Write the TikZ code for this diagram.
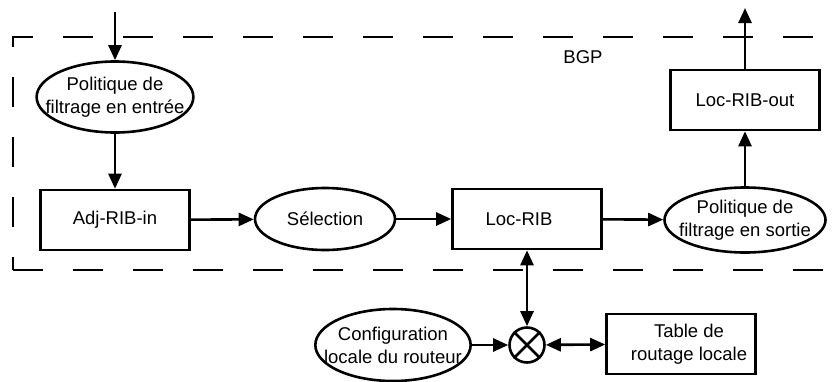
\documentclass[tikz,border=0pt]{standalone}
\usepackage{fontspec}
\setmainfont{Liberation Sans}
\usetikzlibrary{shapes, arrows, arrows.meta, positioning}
\tikzstyle{rbox} = [rectangle, draw, line width=2.6pt, minimum width=149pt, minimum height=60pt, align=center, inner sep=0pt]
\tikzstyle{enode} = [ellipse, draw, line width=2.6pt, align=center, inner xsep=-14pt, inner ysep=0pt]
\tikzstyle{line} = [draw, line width=2.6pt, ->]
\tikzstyle{dline} = [draw, line width=2.6pt, <->]
\tikzstyle{frame} = [draw, line width=2.6pt, dash pattern=on 30pt off 30pt]

\begin{document}
\begin{tikzpicture}[x=1pt, y=-1pt, font=\fontsize{18.5}{23}\selectfont, >={Triangle[length=15pt,width=13pt]}]
			\useasboundingbox (0,0) rectangle (832,381);
			% zone BGP
			\draw [frame, dash phase=33pt] (840,37) -- (13,37) -- (13,270);
			\draw [frame] (13,270) -- (840,270);
			\node (bgp) at (583,57) {BGP};
			
			\node [enode, minimum width=154pt, minimum height=71pt] (filtin) at (115,97) {Politique de\\filtrage en entrée};
			\node [rbox] (adjin) at (115,220) {Adj-RIB-in};
			\node [enode, minimum width=140pt, minimum height=62pt] (selec) at (325,219) {Sélection};
			\node [rbox] (locrib) at (527,219) {\hspace*{-16pt}Loc-RIB};
			\node [enode, minimum width=161pt, minimum height=65pt] (filtout) at (745,220) {Politique de\\filtrage en sortie};
			\node [rbox] (ribout) at (745,100) {Loc-RIB-out};
			\coordinate (entree) at (115,12);
			\coordinate (sortie) at (745,8);
			
			% hors BGP
			\node [circle, draw, line width=2.6pt, minimum size=35pt, inner sep=0pt] (otimes) at (527,345) {};
			\draw [line width=2.6pt] (otimes.north east) -- (otimes.south west) (otimes.north west) -- (otimes.south east);
			\node [enode, minimum width=154pt, minimum height=72pt] (config) at (393,345) {Configuration\\locale du routeur};
			\node [rbox] (table) at (681,344) {\hspace*{16pt}Table de\\\hspace*{16pt}routage locale};
			
			\path [line] (entree) -- (filtin);
			\path [line] (filtin) -- (adjin);
			\path [line] (adjin) -- (selec);
			\path [line] (selec) -- (locrib);
			\path [line] (locrib) -- (filtout);
			\path [line] (filtout) -- (ribout);
			\path [line] (ribout) -- (sortie);
			\path [dline] (locrib) -- (otimes);
			\path [line] (config) -- (otimes);
			\path [dline] (otimes) -- (table);
		\end{tikzpicture}
\end{document}
